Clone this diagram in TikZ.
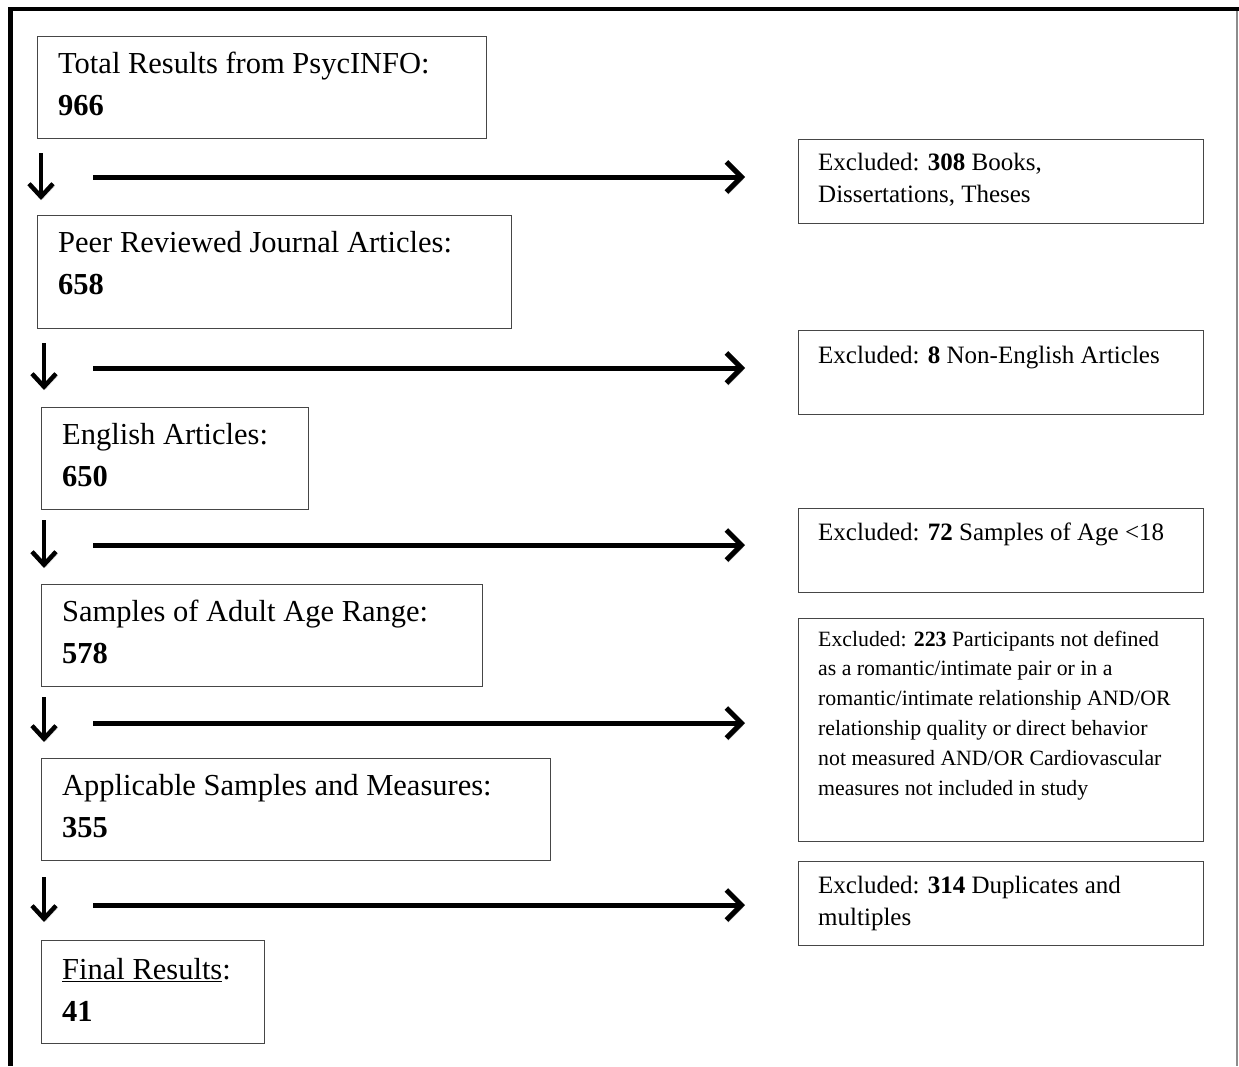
\documentclass[tikz,border=0pt]{standalone}
\usepackage{fontspec}
\setmainfont{Liberation Serif}
\usetikzlibrary{arrows.meta}
\definecolor{boxline}{HTML}{464646}

\begin{document}
\begin{tikzpicture}[x=1pt, y=-1pt,
    box/.style={draw=boxline, line width=1.4pt, anchor=north west, inner sep=0pt},
    stage/.style={anchor=base west, align=left, inner sep=0pt, font=\fontsize{30.5}{42}\selectfont},
    excl/.style={anchor=base west, align=left, inner sep=0pt, font=\fontsize{25}{32.5}\selectfont},
    shade/.style={preaction={draw=black!18, transform canvas={shift={(1.5pt,-2.5pt)}}}},
    flow/.style={line width=5pt, -{Straight Barb[length=15pt,width=30pt]}, shade},
    down/.style={line width=4.5pt, -{Straight Barb[length=13pt,width=24pt]}, shade}]
    \useasboundingbox (0,0) rectangle (1239,1066);

    % frame
    \draw[line width=4.5pt] (8,9) -- (1239,9);
    \draw[line width=4.5pt] (10.5,7) -- (10.5,1066);
    \draw[line width=1.5pt, black!45] (1237,11) -- (1237,1066);

    % stages
    \node[box, minimum width=449pt, minimum height=102pt] (total) at (37,36) {};
    \node[box, minimum width=474pt, minimum height=113pt] (peer) at (37,215) {};
    \node[box, minimum width=267pt, minimum height=102pt] (english) at (41,407) {};
    \node[box, minimum width=441pt, minimum height=102pt] (adult) at (41,584) {};
    \node[box, minimum width=509pt, minimum height=102pt] (applic) at (41,758) {};
    \node[box, minimum width=223pt, minimum height=103pt] (final) at (41,940) {};

    % base = baseline of the last line
    \node[stage] (totaltxt) at ([shift={(21,79)}]total.north west) {Total Results from PsycINFO:\\\textbf{966}};
    \node[stage] (peertxt) at ([shift={(21,79)}]peer.north west) {Peer Reviewed Journal Articles:\\\textbf{658}};
    \node[stage] (englishtxt) at ([shift={(21,79)}]english.north west) {English Articles:\\\textbf{650}};
    \node[stage] (adulttxt) at ([shift={(21,79)}]adult.north west) {Samples of Adult Age Range:\\\textbf{578}};
    \node[stage] (applictxt) at ([shift={(21,79)}]applic.north west) {Applicable Samples and Measures:\\\textbf{355}};
    \node[stage] (finaltxt) at ([shift={(21,81)}]final.north west) {\underline{Final Results}:\\\textbf{41}};

    % exclusions
    \node[box, minimum width=405pt, minimum height=84pt] (exA) at (798,139) {};
    \node[box, minimum width=405pt, minimum height=84pt] (exB) at (798,330) {};
    \node[box, minimum width=405pt, minimum height=84pt] (exC) at (798,508) {};
    \node[box, minimum width=405pt, minimum height=223pt] (exD) at (798,618) {};
    \node[box, minimum width=405pt, minimum height=84pt] (exE) at (798,861) {};

    \node[excl] (exAtxt) at ([shift={(20,63.5)}]exA.north west) {Excluded: \textbf{308} Books,\\Dissertations, Theses};
    \node[excl] (exBtxt) at ([shift={(20,33)}]exB.north west) {Excluded: \textbf{8} Non-English Articles};
    \node[excl] (exCtxt) at ([shift={(20,32)}]exC.north west) {Excluded: \textbf{72} Samples of Age <18};
    \node[excl, font=\fontsize{21.8}{29.8}\selectfont] (exDtxt) at ([shift={(20,177)}]exD.north west)
        {Excluded: \textbf{223} Participants not defined\\as a romantic/intimate pair or in a\\romantic/intimate relationship AND/OR\\relationship quality or direct behavior\\not measured AND/OR Cardiovascular\\measures not included in study};
    \node[excl] (exEtxt) at ([shift={(20,64.5)}]exE.north west) {Excluded: \textbf{314} Duplicates and\\multiples};

    % arrows
    \foreach \y [count=\i] in {177,368,545,723,905} {
        \coordinate (hs\i) at (93,\y);
        \coordinate (he\i) at (745,\y);
        \draw[flow] (hs\i) -- (he\i);
    }
    \foreach \x/\ya/\yb [count=\i] in {41/153/200, 44/343/390, 44/520/568, 44/697/742, 44/877/922} {
        \coordinate (ds\i) at (\x,\ya);
        \coordinate (de\i) at (\x,\yb);
        \draw[down] (ds\i) -- (de\i);
    }
\end{tikzpicture}
\end{document}
